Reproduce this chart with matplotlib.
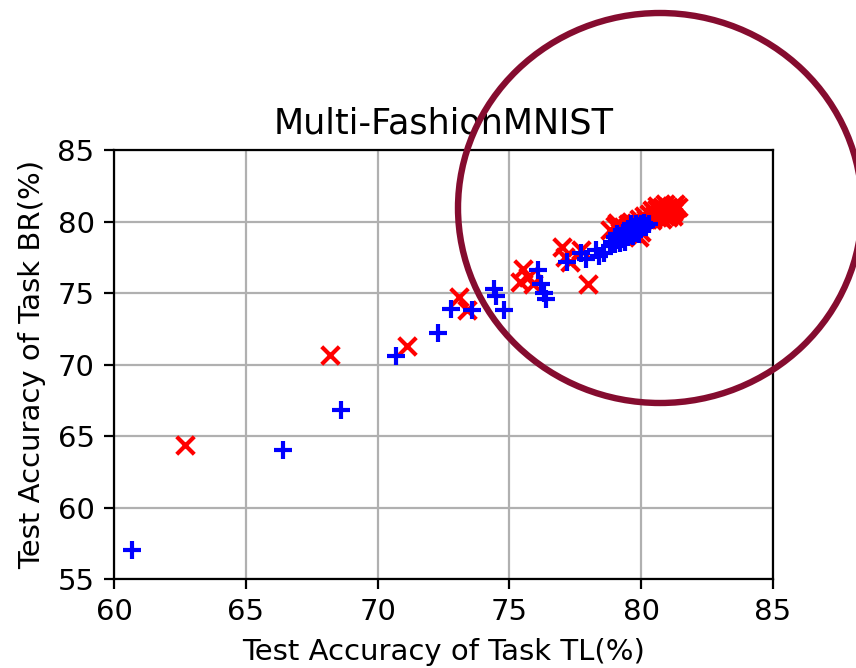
import matplotlib
matplotlib.use("Agg")
import matplotlib.pyplot as plt
from matplotlib.patches import Ellipse

# red 'x' series (sparse part + dense cluster)
red_x = [62.7, 68.2, 71.1, 73.1, 73.4, 75.5, 75.4, 75.7, 75.9, 77.0, 77.1, 77.3, 77.7, 78.0,
         80.2, 80.3, 80.4, 80.5, 80.5, 80.6, 80.6, 80.7, 80.7, 80.8, 80.8, 80.8, 80.9, 80.9,
         81.0, 81.0, 81.1, 81.1, 81.2, 81.2, 81.3, 81.3, 80.4, 80.1, 80.0, 79.9, 80.6, 81.0,
         81.2, 80.9, 81.4, 78.8, 79.0, 79.1, 79.3, 79.5, 79.6, 79.8, 79.7, 80.0, 79.9, 79.2, 79.4]
red_y = [64.4, 70.7, 71.3, 74.7, 73.8, 76.7, 75.8, 76.1, 75.6, 78.2, 77.5, 77.2, 78.0, 75.6,
         80.2, 80.5, 80.1, 80.4, 80.7, 80.3, 80.9, 80.5, 80.8, 80.2, 80.6, 81.0, 80.4, 80.8,
         80.6, 81.0, 80.5, 80.9, 80.7, 81.1, 80.9, 81.2, 80.8, 80.4, 80.0, 80.2, 81.1, 80.3,
         80.4, 81.2, 81.0, 79.4, 79.7, 79.9, 79.6, 79.8, 80.0, 79.9, 79.2, 79.3, 78.9, 79.3, 79.4]

# blue '+' series
blue_x = [60.7, 66.4, 68.6, 70.7, 72.3, 72.8, 73.6, 74.4, 74.5, 74.8, 76.1, 76.2, 76.3, 76.4,
          77.2, 77.7, 77.9, 78.3, 78.4, 78.6, 78.8,
          78.9, 79.0, 79.1, 79.2, 79.2, 79.3, 79.3, 79.4, 79.4, 79.5, 79.5, 79.5, 79.6, 79.6,
          79.7, 79.7, 79.7, 79.8, 79.8, 79.8, 79.9, 79.9, 80.0, 80.0, 80.1, 80.1, 80.2, 79.0,
          79.2, 79.4, 79.6, 79.9, 80.3, 79.1]
blue_y = [57.0, 64.0, 66.8, 70.6, 72.2, 73.9, 73.8, 75.3, 74.8, 73.8, 76.6, 75.6, 75.0, 74.6,
          77.2, 77.8, 77.4, 78.0, 77.6, 77.8, 78.3,
          78.6, 78.9, 78.7, 79.0, 78.5, 79.2, 78.8, 79.0, 79.3, 78.9, 79.2, 79.5, 79.1, 79.4,
          79.0, 79.3, 79.6, 79.2, 79.5, 79.8, 79.4, 79.7, 79.5, 79.8, 79.6, 79.9, 79.7, 78.4,
          78.8, 78.6, 79.8, 79.1, 79.8, 79.1]

x_ticks = [60, 65, 70, 75, 80, 85]
y_ticks = [55, 60, 65, 70, 75, 80, 85]

plt.rcParams["font.size"] = 10.5

fig = plt.figure(figsize=(4.28, 3.34), dpi=200)
ax = fig.add_axes([0.1332, 0.1332, 0.7698, 0.6422])

ax.scatter(red_x, red_y, marker="x", color="red", s=40)
ax.scatter(blue_x, blue_y, marker="+", color="blue", s=40)

ax.set_xlim(60, 85)
ax.set_ylim(55, 85)
ax.set_xticks(x_ticks)
ax.set_yticks(y_ticks)
ax.grid(True)
ax.set_axisbelow(True)
ax.set_title("Multi-FashionMNIST", fontsize=12.6)
ax.set_xlabel("Test Accuracy of Task TL(%)")
ax.set_ylabel("Test Accuracy of Task BR(%)")

# hand-drawn highlight circle
circ = Ellipse((660 / 856, 1 - 208 / 668), 404 / 856, 390 / 668, transform=fig.transFigure,
               fill=False, edgecolor="#850c2f", linewidth=2.3, clip_on=False)
fig.patches.append(circ)

fig.savefig("out.png", dpi=200)
